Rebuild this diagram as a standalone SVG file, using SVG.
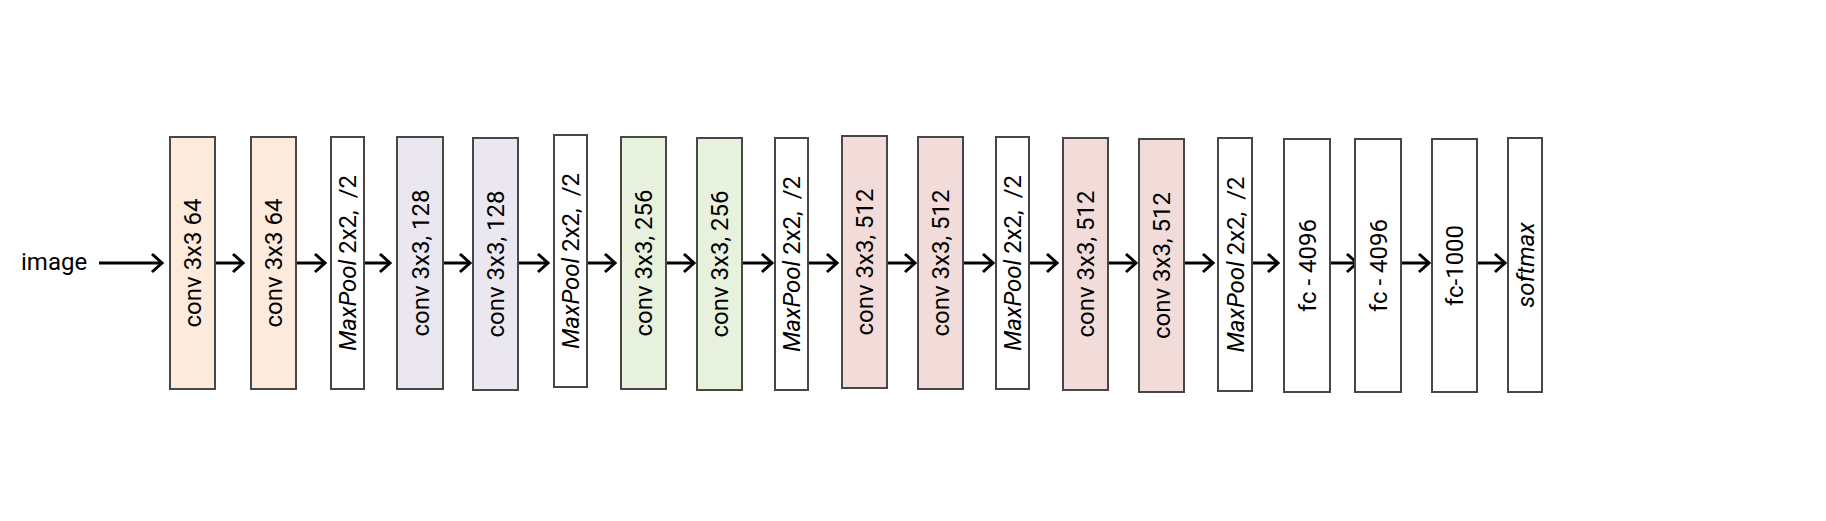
<svg xmlns="http://www.w3.org/2000/svg" width="1826" height="521" viewBox="0 0 1826 521">
<style>
.box{stroke:#474747;stroke-width:2}
.c64{fill:#fcebdd}
.c128{fill:#ebe7f0}
.c256{fill:#e8f0de}
.c512{fill:#f1dcda}
.plain{fill:#ffffff}
.lbl{font-family:Roboto,"Liberation Sans",sans-serif;font-size:24px;fill:#000;text-anchor:middle;white-space:pre}
.it{font-style:italic}
.edge{stroke:#000;stroke-width:3;fill:none}
</style>
<defs>
<marker id="arr" markerWidth="16" markerHeight="24" refX="12" refY="12" orient="auto" markerUnits="userSpaceOnUse">
<path d="M2,3 L12,12 L2,21" fill="none" stroke="#000" stroke-width="3"/>
</marker>
</defs>
<rect width="1826" height="521" fill="#ffffff"/>
<g id="input">
<text x="21" y="269.5" font-family="Roboto,'Liberation Sans',sans-serif" font-size="24" fill="#000">image</text>
</g>
<g id="connectors">
<line class="edge" x1="99" y1="263" x2="162" y2="263" marker-end="url(#arr)"/>
<line class="edge" x1="216" y1="263" x2="243" y2="263" marker-end="url(#arr)"/>
<line class="edge" x1="297" y1="263" x2="325" y2="263" marker-end="url(#arr)"/>
<line class="edge" x1="365" y1="263" x2="390" y2="263" marker-end="url(#arr)"/>
<line class="edge" x1="444" y1="263" x2="470" y2="263" marker-end="url(#arr)"/>
<line class="edge" x1="519" y1="263" x2="548" y2="263" marker-end="url(#arr)"/>
<line class="edge" x1="588" y1="263" x2="615" y2="263" marker-end="url(#arr)"/>
<line class="edge" x1="667" y1="263" x2="694" y2="263" marker-end="url(#arr)"/>
<line class="edge" x1="743" y1="263" x2="772" y2="263" marker-end="url(#arr)"/>
<line class="edge" x1="809" y1="263" x2="837" y2="263" marker-end="url(#arr)"/>
<line class="edge" x1="888" y1="263" x2="915" y2="263" marker-end="url(#arr)"/>
<line class="edge" x1="964" y1="263" x2="993" y2="263" marker-end="url(#arr)"/>
<line class="edge" x1="1030" y1="263" x2="1057" y2="263" marker-end="url(#arr)"/>
<line class="edge" x1="1109" y1="263" x2="1136" y2="263" marker-end="url(#arr)"/>
<line class="edge" x1="1185" y1="263" x2="1213" y2="263" marker-end="url(#arr)"/>
<line class="edge" x1="1253" y1="263" x2="1278" y2="263" marker-end="url(#arr)"/>
<line class="edge" x1="1331" y1="263" x2="1357" y2="263" marker-end="url(#arr)"/>
<line class="edge" x1="1402" y1="263" x2="1429" y2="263" marker-end="url(#arr)"/>
<line class="edge" x1="1478" y1="263" x2="1505" y2="263" marker-end="url(#arr)"/>
</g>
<g id="conv1_1"><rect class="box c64" x="170" y="137" width="45" height="252"/><text class="lbl" transform="translate(192.5,263) rotate(-90)" y="8.5">conv 3x3 64</text></g>
<g id="conv1_2"><rect class="box c64" x="251" y="137" width="45" height="252"/><text class="lbl" transform="translate(273.5,263) rotate(-90)" y="8.5">conv 3x3 64</text></g>
<g id="pool1"><rect class="box plain" x="331" y="137" width="33" height="252"/><text class="lbl" transform="translate(347.5,263) rotate(-90)" y="8.5"><tspan class="it">MaxPool</tspan> 2x2,  /2</text></g>
<g id="conv2_1"><rect class="box c128" x="397" y="137" width="46" height="252"/><text class="lbl" transform="translate(420,263) rotate(-90)" y="8.5">conv 3x3, 128</text></g>
<g id="conv2_2"><rect class="box c128" x="473" y="138" width="45" height="252"/><text class="lbl" transform="translate(495.5,264) rotate(-90)" y="8.5">conv 3x3, 128</text></g>
<g id="pool2"><rect class="box plain" x="554" y="135" width="33" height="252"/><text class="lbl" transform="translate(570.5,261) rotate(-90)" y="8.5"><tspan class="it">MaxPool</tspan> 2x2,  /2</text></g>
<g id="conv3_1"><rect class="box c256" x="621" y="137" width="45" height="252"/><text class="lbl" transform="translate(643.5,263) rotate(-90)" y="8.5">conv 3x3, 256</text></g>
<g id="conv3_2"><rect class="box c256" x="697" y="138" width="45" height="252"/><text class="lbl" transform="translate(719.5,264) rotate(-90)" y="8.5">conv 3x3, 256</text></g>
<g id="pool3"><rect class="box plain" x="775" y="138" width="33" height="252"/><text class="lbl" transform="translate(791.5,264) rotate(-90)" y="8.5"><tspan class="it">MaxPool</tspan> 2x2,  /2</text></g>
<g id="conv4_1"><rect class="box c512" x="842" y="136" width="45" height="252"/><text class="lbl" transform="translate(864.5,262) rotate(-90)" y="8.5">conv 3x3, 512</text></g>
<g id="conv4_2"><rect class="box c512" x="918" y="137" width="45" height="252"/><text class="lbl" transform="translate(940.5,263) rotate(-90)" y="8.5">conv 3x3, 512</text></g>
<g id="pool4"><rect class="box plain" x="996" y="137" width="33" height="252"/><text class="lbl" transform="translate(1012.5,263) rotate(-90)" y="8.5"><tspan class="it">MaxPool</tspan> 2x2,  /2</text></g>
<g id="conv5_1"><rect class="box c512" x="1063" y="138" width="45" height="252"/><text class="lbl" transform="translate(1085.5,264) rotate(-90)" y="8.5">conv 3x3, 512</text></g>
<g id="conv5_2"><rect class="box c512" x="1139" y="139" width="45" height="253"/><text class="lbl" transform="translate(1161.5,265.5) rotate(-90)" y="8.5">conv 3x3, 512</text></g>
<g id="pool5"><rect class="box plain" x="1218" y="138" width="34" height="253"/><text class="lbl" transform="translate(1235,264.5) rotate(-90)" y="8.5"><tspan class="it">MaxPool</tspan> 2x2,  /2</text></g>
<g id="fc1"><rect class="box plain" x="1284" y="139" width="46" height="253"/><text class="lbl" transform="translate(1307,265.5) rotate(-90)" y="8.5">fc - 4096</text></g>
<g id="fc2"><rect class="box plain" x="1355" y="139" width="46" height="253"/><text class="lbl" transform="translate(1378,265.5) rotate(-90)" y="8.5">fc - 4096</text></g>
<g id="fc3"><rect class="box plain" x="1432" y="139" width="45" height="253"/><text class="lbl" transform="translate(1454.5,265.5) rotate(-90)" y="8.5">fc-1000</text></g>
<g id="softmax"><rect class="box plain" x="1508" y="138" width="34" height="254"/><text class="lbl it" transform="translate(1525,265) rotate(-90)" y="8.5">softmax</text></g>
</svg>
